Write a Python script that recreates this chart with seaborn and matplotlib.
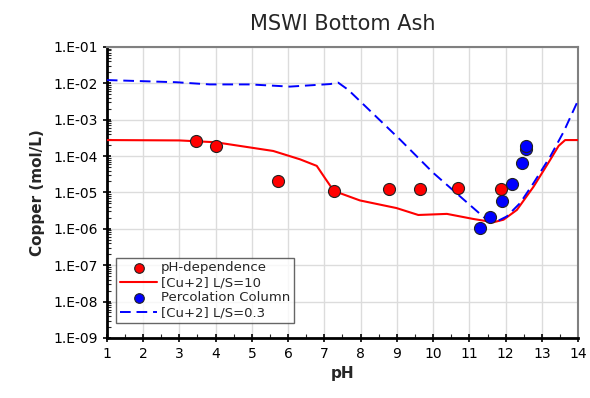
import numpy as np
import pandas as pd
import seaborn as sns
import matplotlib.pyplot as plt
from matplotlib.ticker import FixedLocator, FuncFormatter, MultipleLocator, LogLocator, NullFormatter

# pH-dependence test points
ph_dep_x = [3.47, 4.01, 5.71, 7.27, 8.79, 9.64, 10.69, 11.87]
ph_dep_y = [2.67e-4, 1.86e-4, 2.1e-5, 1.1e-5, 1.23e-5, 1.23e-5, 1.3e-5, 1.25e-5]

# percolation column points
perc_x = [11.30, 11.57, 11.89, 12.18, 12.44, 12.56, 12.56]
perc_y = [1.07e-6, 2.1e-6, 6.0e-6, 1.7e-5, 6.5e-5, 1.55e-4, 1.95e-4]

# model [Cu+2] L/S=10
ls10_x = [1.0, 3.0, 4.0, 5.59, 6.33, 6.79, 7.02, 7.24, 7.43, 7.98, 8.99, 9.59,
          10.38, 11.11, 11.66, 11.94, 12.31, 12.77, 13.23, 13.46, 13.64, 14.0]
ls10_y = [10**v for v in [-3.56, -3.57, -3.62, -3.86, -4.09, -4.27, -4.61, -4.93, -5.02,
                          -5.22, -5.43, -5.62, -5.59, -5.73, -5.82, -5.75, -5.48, -4.84,
                          -4.10, -3.72, -3.56, -3.56]]

# model [Cu+2] L/S=0.3
ls03_x = [1.0, 2.92, 3.84, 4.95, 6.05, 7.16, 7.38, 7.66, 9.09, 10.0, 11.43, 11.75,
          12.03, 12.4, 12.77, 13.23, 13.6, 14.0]
ls03_y = [10**v for v in [-1.91, -1.97, -2.03, -2.03, -2.09, -2.02, -1.98, -2.18, -3.55,
                          -4.46, -5.71, -5.80, -5.66, -5.29, -4.74, -4.01, -3.33, -2.46]]


def fmt_exp(v, pos):
    e = int(round(np.log10(v)))
    return "1.E{}{:02d}".format('-' if e < 0 else '+', abs(e))


def main():
    sns.set_theme(style="white")
    plt.rcParams['font.family'] = ['DejaVu Sans']

    fig = plt.figure(figsize=(5.9, 3.98), dpi=100)
    ax = fig.add_axes([0.181, 0.151, 0.799, 0.731])

    sns.scatterplot(x=ph_dep_x, y=ph_dep_y, ax=ax, color='red', s=75,
                    edgecolor='#222222', linewidth=0.8, label='pH-dependence', zorder=5)
    sns.lineplot(x=ls10_x, y=ls10_y, ax=ax, color='red', linewidth=1.5,
                 label='[Cu+2] L/S=10', sort=False, estimator=None, zorder=3)
    sns.scatterplot(x=perc_x, y=perc_y, ax=ax, color='blue', s=75,
                    edgecolor='#222222', linewidth=0.8, label='Percolation Column', zorder=5)
    sns.lineplot(x=ls03_x, y=ls03_y, ax=ax, color='blue', linewidth=1.4,
                 label='[Cu+2] L/S=0.3', sort=False, estimator=None, zorder=3,
                 dashes=False)
    ax.lines[-1].set_dashes([5.5, 3])

    ax.set_yscale('log')
    ax.set_xlim(1, 14)
    ax.set_ylim(1e-9, 1e-1)
    ax.xaxis.set_major_locator(MultipleLocator(1))
    ax.xaxis.set_minor_locator(MultipleLocator(0.5))
    ax.yaxis.set_major_locator(FixedLocator([10.0**e for e in range(-9, 0)]))
    ax.yaxis.set_major_formatter(FuncFormatter(fmt_exp))
    ax.yaxis.set_minor_locator(LogLocator(base=10, subs=np.arange(2, 10), numticks=20))
    ax.yaxis.set_minor_formatter(NullFormatter())

    ax.grid(True, which='major', color='#dcdcdc', linewidth=1.0)
    ax.set_axisbelow(True)
    ax.tick_params(axis='both', which='major', direction='inout', length=6, width=1.2,
                   labelsize=10, colors='black')
    ax.tick_params(axis='both', which='minor', direction='in', length=3, width=0.8)
    ax.tick_params(axis='x', which='both', bottom=True)
    ax.tick_params(axis='y', which='both', left=True)

    for side in ['left', 'bottom']:
        ax.spines[side].set_color('black')
        ax.spines[side].set_linewidth(2)
    for side in ['top', 'right']:
        ax.spines[side].set_color('#808080')
        ax.spines[side].set_linewidth(1.5)

    ax.set_title('MSWI Bottom Ash', fontsize=15, pad=12)
    ax.set_xlabel('pH', fontsize=11, fontweight='bold', labelpad=4)
    ax.set_ylabel('Copper (mol/L)', fontsize=11, fontweight='bold', labelpad=6)

    leg = ax.legend(loc='lower left', bbox_to_anchor=(0.02, 0.05), fontsize=9.5,
                    frameon=True, fancybox=False, edgecolor='#404040',
                    handlelength=2.8, borderpad=0.3, labelspacing=0.15,
                    handletextpad=0.3, borderaxespad=0, markerscale=0.8)
    leg.get_frame().set_linewidth(1.0)

    fig.savefig('out.png', dpi=100)


if __name__ == '__main__':
    main()
